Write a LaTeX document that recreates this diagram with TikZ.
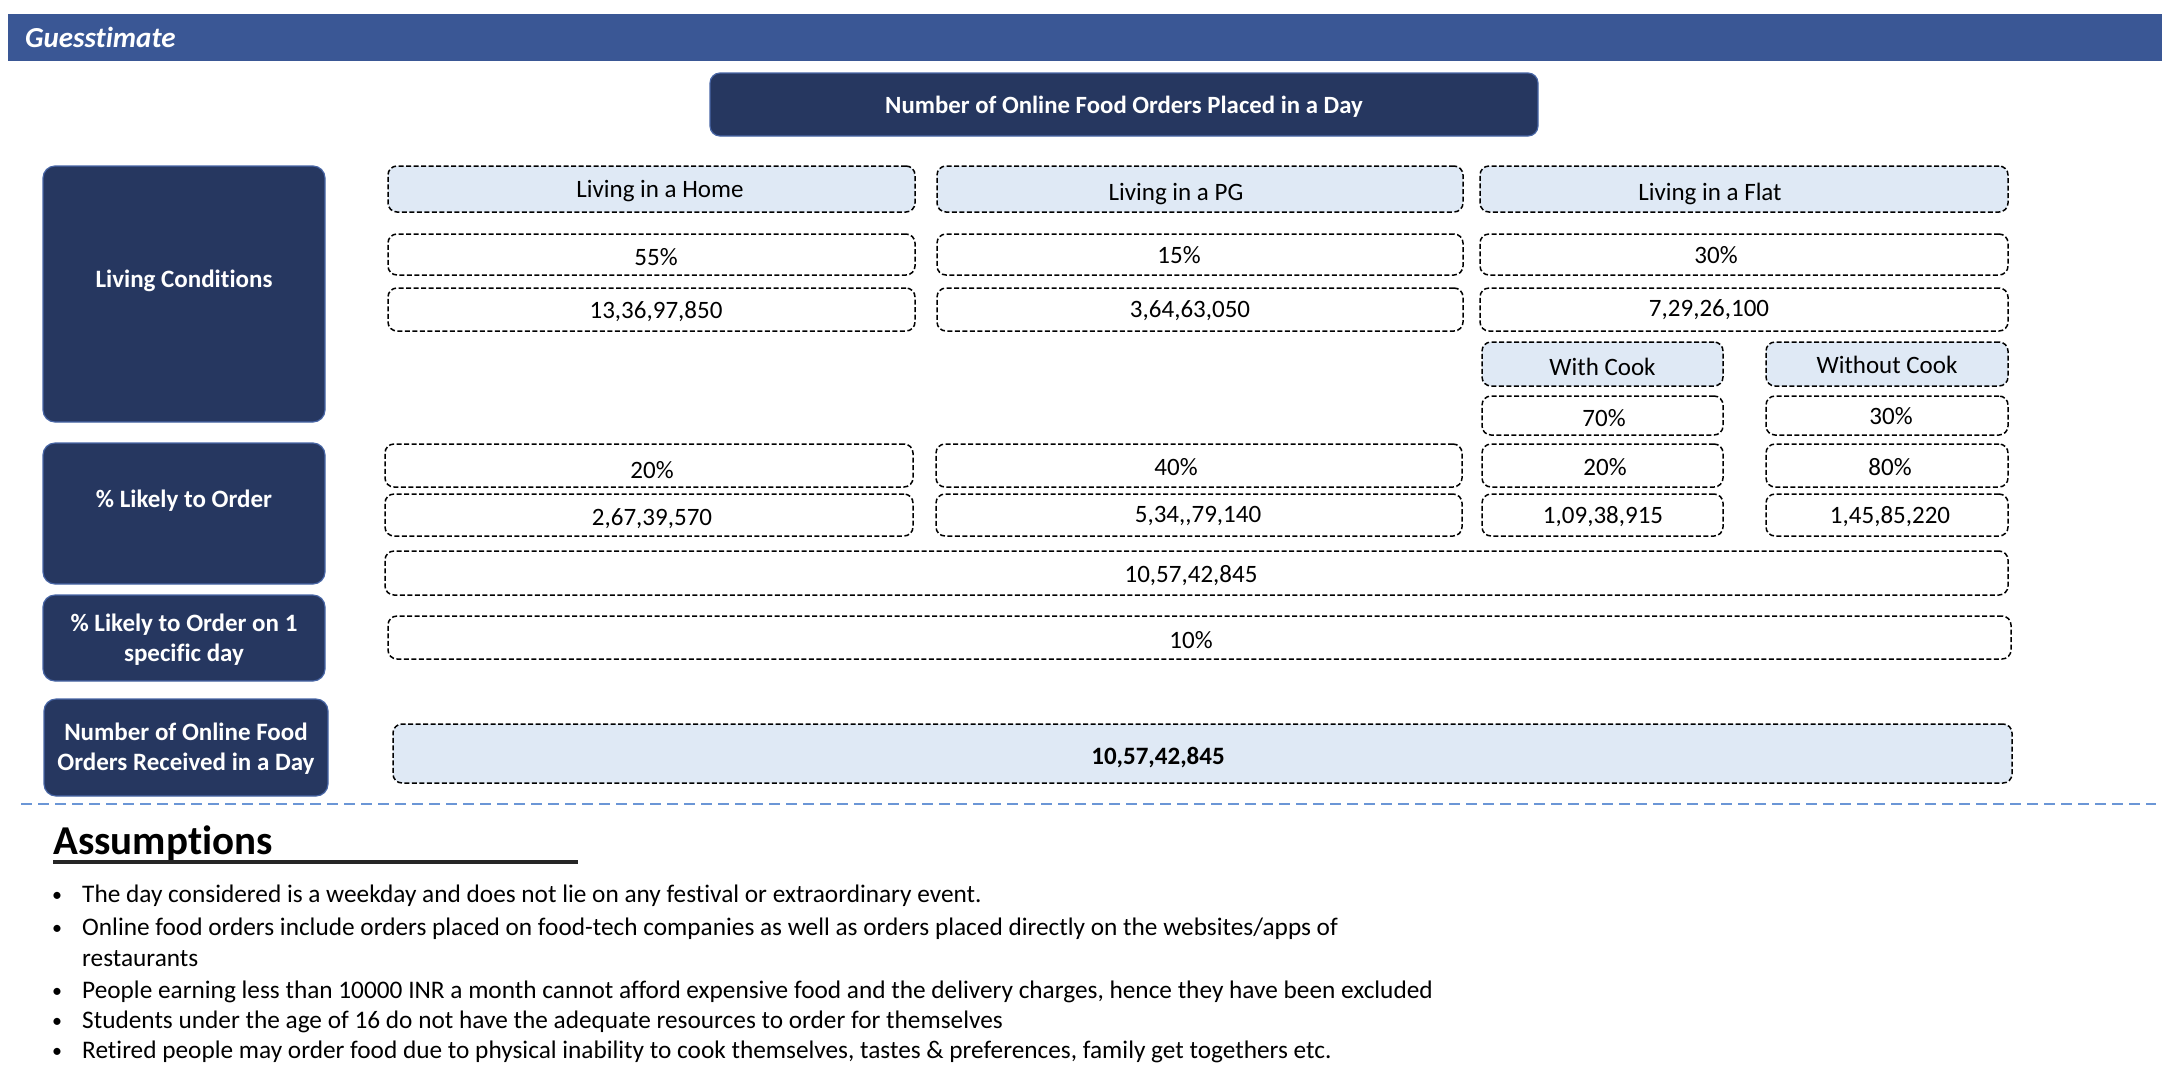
\documentclass[tikz,border=0pt]{standalone}
\usepackage{fontspec}
\setmainfont[Ligatures=NoCommon]{Carlito}
\definecolor{hdr}{HTML}{3A5795}
\definecolor{navy}{HTML}{263760}
\definecolor{navyedge}{HTML}{4866A6}
\definecolor{lblue}{HTML}{DFE9F5}
\definecolor{sepblue}{HTML}{6B96D6}
\definecolor{uline}{HTML}{262626}
\begin{document}
\begin{tikzpicture}[x=1pt,y=-1pt,
  cell/.style={draw=black, line width=1.5pt, dash pattern=on 5pt off 2.5pt, rounded corners=9pt, inner sep=0pt, font=\fontsize{25}{29}\selectfont, text=black},
  hcell/.style={cell, fill=lblue},
  navybox/.style={fill=navy, draw=navyedge, line width=1.2pt, rounded corners=12pt, inner sep=0pt, text=white, align=center, font=\bfseries\fontsize{25}{30}\selectfont},
  navytext/.style={inner sep=0pt, text=white, align=center, font=\bfseries\fontsize{25}{30}\selectfont},
  ctext/.style={inner sep=0pt, font=\fontsize{25}{29}\selectfont, yshift=-2.5pt},
  bul/.style={anchor=base west, inner sep=0pt, font=\fontsize{25.3}{29}\selectfont},
  dot/.style={anchor=base west, inner sep=0pt, font=\fontsize{20}{24}\selectfont},
  sepline/.style={draw=sepblue, line width=2pt, dash pattern=on 11pt off 6pt}
]
\useasboundingbox (0,0) rectangle (2170,1088);
% header
\node[fill=hdr, minimum width=2154pt, minimum height=47pt, inner sep=0pt, anchor=north west] (hdr) at (8,14) {};
\node[anchor=base west, text=white, font=\bfseries\itshape\fontsize{29}{32}\selectfont, inner sep=0pt] (ttl) at (25,47) {Guesstimate};
% title
\node[navybox, rounded corners=10pt, minimum width=828pt, minimum height=63pt] (title) at (1124,104.5) {};
\node[navytext, font=\bfseries\fontsize{24.8}{30}\selectfont] (titlet) at (1124,107) {Number of Online Food Orders Placed in a Day};
% left boxes
\node[navybox, minimum width=282pt, minimum height=256pt] (lc) at (184,294) {};
\node[navytext] (lct) at (184,281) {Living Conditions};
\node[navybox, minimum width=282pt, minimum height=141pt] (lo) at (184,513.5) {};
\node[navytext] (lot) at (184,501) {\% Likely to Order};
\node[navybox, minimum width=282pt, minimum height=86pt] (ld) at (184,638) {};
\node[navytext] (ldt) at (184,639.5) {\% Likely to Order on 1\\specific day};
\node[navybox, minimum width=284pt, minimum height=97pt] (lr) at (186,747.5) {};
\node[navytext] (lrt) at (186,749) {Number of Online Food\\Orders Received in a Day};
% header row
\node[hcell, minimum width=527pt, minimum height=46pt] (h1) at (651.5,189) {};
\node[ctext] (h1t) at (660,189) {Living in a Home};
\node[hcell, minimum width=526pt, minimum height=46pt] (h2) at (1200,189) {};
\node[ctext] (h2t) at (1176,192) {Living in a PG};
\node[hcell, minimum width=528pt, minimum height=46pt] (h3) at (1744,189) {};
\node[ctext] (h3t) at (1710,191) {Living in a Flat};
% pct row
\node[cell, minimum width=527pt, minimum height=41pt] (p1) at (651.5,254.5) {};
\node[ctext] (p1t) at (656,254.5) {55\%};
\node[cell, minimum width=526pt, minimum height=41pt] (p2) at (1200,254.5) {};
\node[ctext] (p2t) at (1179,253) {15\%};
\node[cell, minimum width=528pt, minimum height=41pt] (p3) at (1744,254.5) {};
\node[ctext] (p3t) at (1716,253) {30\%};
% number row
\node[cell, minimum width=527pt, minimum height=43pt] (n1) at (651.5,309.5) {};
\node[ctext] (n1t) at (656,309.5) {13,36,97,850};
\node[cell, minimum width=526pt, minimum height=43pt] (n2) at (1200,309.5) {};
\node[ctext] (n2t) at (1190,308) {3,64,63,050};
\node[cell, minimum width=528pt, minimum height=43pt] (n3) at (1744,309.5) {};
\node[ctext] (n3t) at (1709,307) {7,29,26,100};
% cook
\node[hcell, minimum width=241pt, minimum height=44pt] (wc) at (1602.5,364) {};
\node[ctext] (wct) at (1602.5,364) {With Cook};
\node[hcell, minimum width=242pt, minimum height=44pt] (wo) at (1887,364) {};
\node[ctext] (wot) at (1887,362) {Without Cook};
\node[cell, minimum width=241pt, minimum height=39pt] (wcp) at (1602.5,415.5) {};
\node[ctext] (wcpt) at (1604,415.5) {70\%};
\node[cell, minimum width=242pt, minimum height=39pt] (wop) at (1887,415.5) {};
\node[ctext] (wopt) at (1891,414) {30\%};
% likely pct
\node[cell, minimum width=528pt, minimum height=43pt] (l1) at (649,465.5) {};
\node[ctext] (l1t) at (652,468) {20\%};
\node[cell, minimum width=526pt, minimum height=43pt] (l2) at (1199,465.5) {};
\node[ctext] (l2t) at (1176,465) {40\%};
\node[cell, minimum width=241pt, minimum height=43pt] (l3) at (1602.5,465.5) {};
\node[ctext] (l3t) at (1605,465) {20\%};
\node[cell, minimum width=242pt, minimum height=43pt] (l4) at (1887,465.5) {};
\node[ctext] (l4t) at (1890,465) {80\%};
% likely numbers
\node[cell, minimum width=528pt, minimum height=42pt] (m1) at (649,515) {};
\node[ctext] (m1t) at (652,516) {2,67,39,570};
\node[cell, minimum width=526pt, minimum height=42pt] (m2) at (1199,515) {};
\node[ctext] (m2t) at (1198,513) {5,34,\kern0pt,79,140};
\node[cell, minimum width=241pt, minimum height=42pt] (m3) at (1602.5,515) {};
\node[ctext] (m3t) at (1603,514) {1,09,38,915};
\node[cell, minimum width=242pt, minimum height=42pt] (m4) at (1887,515) {};
\node[ctext] (m4t) at (1890,514) {1,45,85,220};
% totals
\node[cell, minimum width=1623pt, minimum height=44pt] (tot) at (1196.5,573) {};
\node[ctext] (tott) at (1191,573) {10,57,42,845};
\node[cell, minimum width=1623pt, minimum height=43pt] (day) at (1199.5,637.5) {};
\node[ctext] (dayt) at (1191,637.5) {10\%};
\node[hcell, minimum width=1619pt, minimum height=59pt] (fin) at (1202.5,753.5) {};
\node[ctext, font=\bfseries\fontsize{25}{29}\selectfont] (fint) at (1158,755) {10,57,42,845};
% separator
\coordinate (s1) at (21,804);
\coordinate (s2) at (2156,804);
\draw[sepline] (s1) -- (s2);
% assumptions
\node[anchor=base west, inner sep=0pt, font=\bfseries\fontsize{41}{45}\selectfont] (asm) at (53,854) {Assumptions};
\coordinate (u1) at (53,862);
\coordinate (u2) at (578,862);
\draw[draw=uline, line width=3.5pt] (u1) -- (u2);
\node[dot] (b1) at (52,901) {\textbullet};
\node[bul] (a1) at (82,902) {The day considered is a weekday and does not lie on any festival or extraordinary event.};
\node[dot] (b2) at (52,934) {\textbullet};
\node[bul] (a2) at (82,935) {Online food orders include orders placed on food-tech companies as well as orders placed directly on the websites/apps of};
\node[bul] (a2b) at (82,966) {restaurants};
\node[dot] (b3) at (52,997) {\textbullet};
\node[bul] (a3) at (82,998) {People earning less than 10000 INR a month cannot afford expensive food and the delivery charges, hence they have been excluded};
\node[dot] (b4) at (52,1027) {\textbullet};
\node[bul] (a4) at (82,1028) {Students under the age of 16 do not have the adequate resources to order for themselves};
\node[dot] (b5) at (52,1057) {\textbullet};
\node[bul] (a5) at (82,1058) {Retired people may order food due to physical inability to cook themselves, tastes \& preferences, family get togethers etc.};
\end{tikzpicture}
\end{document}
